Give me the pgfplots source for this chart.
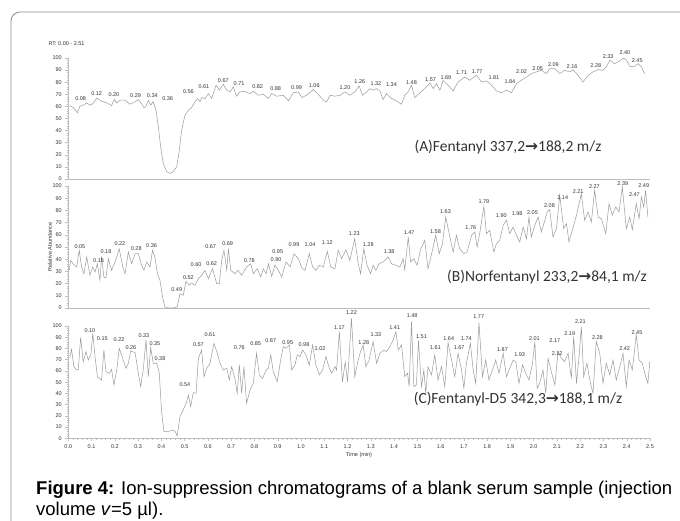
\documentclass[border=0pt]{standalone}
\usepackage{pgfplots}
\pgfplotsset{compat=1.18}
\usepackage{fontspec}
\setmainfont{Liberation Sans}
\newfontfamily\calfont{Carlito}
\newfontfamily\symfont{DejaVu Sans}
\definecolor{trace}{HTML}{9A9A9A}
\definecolor{axisg}{HTML}{BDBDBD}
\definecolor{labg}{HTML}{333333}
\definecolor{frameg}{HTML}{8C8C8C}
\newcommand\tinyfont{\fontsize{5.5}{6}\selectfont}

\pgfplotsset{
  chrom/.style={
    scale only axis, width=581.7pt, anchor=south west,
    xmin=0, xmax=2.5, ymin=0, ymax=100, clip=false,
    axis x line*=bottom, axis y line*=left,
    axis line style={axisg, line width=0.7pt},
    ytick={0,10,...,100}, minor y tick num=4,
    tick align=outside, major tick length=3pt, minor tick length=1.6pt,
    every tick/.style={axisg, line width=0.4pt},
    tick label style={font=\tinyfont, text=labg},
    /pgf/number format/assume math mode=true,
  },
  trc/.style={color=trace, line width=0.5pt, mark=none},
  peaks/.style={only marks, mark=none, nodes near coords, point meta=explicit symbolic,
    every node near coord/.append style={anchor=center, font=\tinyfont, text=labg, inner sep=0pt}},
}

\begin{document}
\begin{tikzpicture}
\useasboundingbox (0,0) rectangle (680pt,521pt);
\draw[frameg, line width=0.8pt, rounded corners=9pt] (11pt,-2pt) -- (11pt,509pt) -- (684pt,509pt);

% (A) Fentanyl
\begin{axis}[chrom, at={(68.3pt,342pt)}, height=121pt, xtick=\empty]
\addplot[trc] table {
0.007 60.7
0.021 59.1
0.039 54.7
0.050 60.2
0.064 61.0
0.079 62.9
0.093 61.0
0.107 62.4
0.122 66.8
0.143 64.3
0.165 62.9
0.186 60.7
0.198 65.9
0.208 62.9
0.222 65.1
0.244 65.1
0.265 61.8
0.287 63.9
0.301 65.6
0.315 62.1
0.325 58.8
0.334 60.2
0.344 65.1
0.354 61.0
0.365 63.9
0.377 56.9
0.387 43.1
0.397 26.6
0.408 12.9
0.423 6.0
0.437 4.6
0.451 6.0
0.466 10.2
0.477 23.6
0.487 40.1
0.501 52.5
0.516 56.9
0.530 59.1
0.544 63.7
0.556 66.5
0.566 63.9
0.573 67.3
0.587 66.2
0.602 70.6
0.616 66.5
0.635 77.5
0.649 73.4
0.666 78.3
0.681 73.4
0.695 72.0
0.709 76.1
0.723 68.4
0.738 72.0
0.759 72.3
0.781 70.6
0.795 72.5
0.817 69.2
0.838 70.0
0.860 66.5
0.874 70.6
0.895 68.4
0.924 69.2
0.946 64.6
0.967 71.2
0.989 72.0
1.003 67.3
1.024 69.2
1.053 73.9
1.074 70.0
1.096 65.1
1.110 63.7
1.125 69.2
1.146 68.4
1.168 69.2
1.189 72.0
1.210 69.2
1.231 72.0
1.250 76.9
1.264 69.2
1.282 72.0
1.296 74.7
1.310 73.4
1.325 74.7
1.339 72.8
1.353 65.6
1.367 70.6
1.389 66.5
1.410 64.6
1.432 61.8
1.446 69.2
1.461 72.0
1.475 77.5
1.489 67.3
1.511 71.2
1.532 74.7
1.554 79.4
1.568 74.7
1.582 78.8
1.597 73.4
1.611 81.6
1.632 77.5
1.654 72.8
1.675 80.2
1.704 84.3
1.725 81.6
1.754 85.7
1.776 80.2
1.797 81.0
1.819 77.5
1.840 72.8
1.861 71.2
1.883 73.4
1.904 71.2
1.926 78.8
1.947 81.6
1.969 84.3
1.990 87.1
2.012 88.5
2.033 89.8
2.055 87.1
2.069 91.2
2.091 91.2
2.112 87.1
2.133 89.8
2.155 88.5
2.169 90.4
2.191 85.7
2.212 80.2
2.234 85.7
2.255 88.5
2.277 90.4
2.298 89.8
2.312 92.6
2.327 98.1
2.348 95.3
2.370 97.5
2.384 100.0
2.398 98.6
2.413 93.1
2.434 93.1
2.449 95.3
2.463 92.6
2.477 87.1
};
\addplot[peaks] table[meta=lab] {
t v lab
0.053 66.8 0.08
0.122 70.6 0.12
0.196 69.8 0.20
0.289 68.7 0.29
0.361 68.7 0.34
0.427 66.2 0.36
0.516 72.5 0.56
0.583 76.1 0.61
0.666 81.6 0.67
0.734 78.8 0.71
0.814 76.1 0.82
0.891 74.5 0.88
0.981 75.3 0.99
1.057 76.9 1.06
1.189 75.5 1.20
1.253 80.2 1.26
1.322 79.1 1.32
1.389 78.3 1.34
1.475 79.4 1.48
1.557 82.4 1.57
1.623 83.8 1.69
1.690 87.6 1.71
1.757 88.5 1.77
1.829 83.5 1.81
1.898 80.2 1.84
1.948 88.5 2.02
2.017 91.2 2.05
2.085 94.5 2.09
2.165 93.1 2.16
2.267 94.0 2.28
2.320 101.4 2.33
2.392 104.1 2.40
2.445 97.5 2.45
};
\end{axis}

% (B) Norfentanyl
\begin{axis}[chrom, at={(68.3pt,213pt)}, height=122pt, xtick=\empty]
\addplot[trc] table {
0.004 30.9
0.010 39.0
0.021 36.1
0.036 33.6
0.047 47.3
0.057 33.6
0.067 28.1
0.079 41.8
0.093 26.8
0.105 33.6
0.115 29.5
0.125 36.3
0.136 22.7
0.143 42.3
0.153 25.4
0.162 24.6
0.172 40.4
0.186 30.9
0.201 37.7
0.219 48.6
0.234 33.6
0.244 28.1
0.258 45.9
0.272 36.3
0.287 44.5
0.301 44.5
0.315 35.0
0.325 30.9
0.337 37.7
0.351 33.6
0.362 47.3
0.372 41.8
0.383 28.1
0.394 22.7
0.405 9.0
0.415 0.8
0.430 0
0.451 0
0.468 0.8
0.480 11.7
0.494 10.4
0.506 21.9
0.520 18.6
0.530 20.5
0.544 18.6
0.559 24.0
0.573 26.8
0.587 30.9
0.602 24.0
0.620 32.2
0.638 19.9
0.649 19.9
0.659 39.0
0.669 47.3
0.681 30.9
0.688 48.6
0.698 30.9
0.716 28.1
0.730 30.9
0.745 26.8
0.766 33.6
0.784 36.3
0.795 28.1
0.812 32.2
0.827 25.4
0.838 32.2
0.850 28.1
0.860 36.3
0.874 26.0
0.888 35.0
0.903 30.9
0.917 25.4
0.936 37.7
0.953 33.6
0.970 44.5
0.989 40.4
1.003 33.0
1.017 30.9
1.036 44.5
1.050 33.6
1.064 30.9
1.079 35.0
1.096 33.6
1.113 46.4
1.128 33.6
1.146 32.2
1.160 47.3
1.175 40.4
1.193 47.8
1.210 39.0
1.231 56.8
1.246 36.3
1.256 28.1
1.270 48.6
1.284 35.0
1.299 28.1
1.310 35.0
1.322 30.9
1.336 36.3
1.353 37.7
1.375 41.8
1.389 36.3
1.408 35.0
1.425 33.6
1.439 40.4
1.446 31.4
1.461 58.2
1.471 37.7
1.485 40.4
1.499 35.0
1.513 47.3
1.532 55.5
1.546 32.2
1.565 47.3
1.579 59.6
1.594 44.5
1.608 52.7
1.622 74.6
1.640 58.2
1.654 45.9
1.668 59.6
1.682 48.6
1.700 44.5
1.714 45.9
1.733 59.6
1.747 62.3
1.757 50.0
1.768 60.9
1.786 83.3
1.797 60.9
1.811 63.7
1.829 45.9
1.840 52.7
1.854 55.5
1.869 67.8
1.883 71.9
1.897 60.9
1.912 66.4
1.926 59.6
1.940 54.1
1.955 66.4
1.969 56.8
1.980 74.6
1.990 58.2
2.005 67.8
2.019 74.6
2.033 62.3
2.048 71.9
2.058 78.7
2.069 80.6
2.083 58.2
2.098 65.0
2.112 92.3
2.129 65.0
2.141 69.1
2.152 54.1
2.166 63.7
2.184 76.0
2.205 93.7
2.219 71.9
2.234 78.7
2.248 70.5
2.262 96.4
2.277 74.6
2.291 73.2
2.310 60.9
2.324 85.5
2.338 76.0
2.353 82.8
2.367 78.7
2.381 99.2
2.398 65.0
2.413 74.6
2.424 64.2
2.441 85.5
2.453 73.2
2.463 91.0
2.473 82.8
2.481 96.4
2.491 74.6
};
\addplot[peaks] table[meta=lab] {
t v lab
0.050 50.5 0.05
0.130 38.8 0.15
0.162 45.9 0.18
0.222 52.5 0.22
0.292 48.4 0.28
0.358 50.8 0.36
0.466 14.8 0.49
0.516 24.6 0.52
0.549 35.5 0.60
0.616 36.1 0.62
0.612 50.5 0.67
0.685 52.7 0.69
0.778 38.8 0.78
0.893 39.6 0.90
0.900 46.4 0.95
0.970 52.2 0.99
1.039 52.2 1.04
1.113 53.6 1.12
1.229 60.9 1.23
1.289 52.2 1.28
1.379 45.9 1.38
1.465 62.0 1.47
1.578 62.3 1.58
1.621 78.7 1.63
1.730 66.1 1.76
1.786 87.4 1.79
1.861 75.7 1.90
1.929 77.0 1.98
1.995 77.9 2.05
2.068 84.2 2.08
2.125 90.4 2.14
2.191 95.1 2.21
2.261 99.2 2.27
2.383 101.9 2.39
2.433 93.2 2.47
2.473 100.5 2.49
};
\end{axis}

% (C) Fentanyl-D5
\begin{axis}[chrom, at={(68.3pt,82.7pt)}, height=112.3pt,
  xtick={0,0.1,0.2,0.3,0.4,0.5,0.6,0.7,0.8,0.9,1.0,1.1,1.2,1.3,1.4,1.5,1.6,1.7,1.8,1.9,2.0,2.1,2.2,2.3,2.4,2.5},
  minor x tick num=4,
  xticklabel style={/pgf/number format/.cd, fixed, fixed zerofill, precision=1}]
\addplot[trc] table {
0.007 72.0
0.014 79.2
0.024 63.8
0.036 60.8
0.043 61.4
0.053 89.9
0.064 68.2
0.076 77.2
0.086 69.7
0.097 74.2
0.105 93.5
0.115 72.7
0.125 54.9
0.143 51.9
0.153 78.6
0.162 59.3
0.176 57.9
0.186 61.4
0.196 47.5
0.208 60.8
0.219 80.1
0.236 69.7
0.248 62.3
0.258 66.8
0.268 77.7
0.287 76.3
0.301 57.9
0.311 46.0
0.322 60.8
0.334 87.5
0.344 54.9
0.354 81.0
0.365 66.8
0.380 66.8
0.391 57.9
0.401 23.7
0.411 5.9
0.430 5.9
0.444 7.4
0.458 6.5
0.468 2.1
0.480 19.3
0.494 25.2
0.509 32.6
0.516 38.6
0.526 28.2
0.537 40.7
0.549 40.0
0.559 71.2
0.573 78.6
0.583 54.9
0.595 62.3
0.609 66.8
0.626 84.6
0.638 77.2
0.652 66.8
0.666 60.8
0.681 62.3
0.692 51.9
0.702 63.8
0.716 53.4
0.726 40.0
0.735 65.3
0.745 40.0
0.755 63.8
0.766 31.2
0.781 43.0
0.795 49.0
0.809 75.7
0.821 56.4
0.835 53.4
0.850 60.8
0.860 62.3
0.870 74.2
0.881 59.3
0.898 50.4
0.913 70.3
0.924 81.6
0.936 80.1
0.950 83.1
0.960 60.8
0.974 65.3
0.984 74.2
0.996 72.7
1.007 78.6
1.021 74.2
1.036 65.3
1.050 83.1
1.064 65.3
1.079 56.4
1.093 60.8
1.107 72.7
1.122 62.3
1.132 57.9
1.146 63.8
1.153 60.8
1.165 95.0
1.178 50.0
1.190 68.0
1.200 50.4
1.217 106.8
1.231 54.9
1.246 69.7
1.256 77.2
1.267 83.1
1.279 63.8
1.293 69.7
1.310 86.1
1.325 66.8
1.339 75.7
1.356 78.6
1.367 77.2
1.382 81.6
1.396 87.5
1.408 95.0
1.418 78.6
1.432 83.1
1.446 54.9
1.458 57.9
1.465 46.0
1.475 103.9
1.485 46.0
1.496 47.5
1.505 86.9
1.518 46.0
1.528 60.8
1.536 40.0
1.546 63.8
1.561 56.4
1.575 74.2
1.589 51.9
1.604 63.8
1.618 46.0
1.632 85.2
1.647 69.7
1.661 54.9
1.675 75.7
1.690 60.8
1.700 44.5
1.711 66.8
1.728 84.6
1.740 60.8
1.751 49.0
1.765 103.0
1.780 54.9
1.794 69.7
1.808 51.9
1.823 60.8
1.837 69.7
1.851 57.9
1.869 75.7
1.883 54.9
1.897 62.3
1.912 69.7
1.923 68.2
1.937 49.0
1.952 65.3
1.966 57.9
1.980 51.9
1.995 66.8
2.005 86.1
2.015 44.5
2.026 49.0
2.040 60.8
2.052 40.0
2.062 71.2
2.076 59.3
2.091 47.5
2.105 77.2
2.119 71.2
2.133 68.2
2.148 75.7
2.162 53.4
2.172 90.5
2.184 49.0
2.195 72.7
2.205 99.4
2.215 54.9
2.229 66.8
2.244 49.0
2.255 40.0
2.269 86.1
2.284 75.7
2.298 49.0
2.312 66.8
2.327 56.4
2.341 69.7
2.355 51.9
2.370 63.8
2.384 75.7
2.398 46.0
2.410 69.7
2.424 60.8
2.441 92.0
2.453 69.7
2.467 66.8
2.481 54.9
2.491 49.0
2.499 68.2
};
\addplot[peaks] table[meta=lab] {
t v lab
0.093 95.8 0.10
0.146 89.0 0.15
0.218 88.1 0.22
0.269 80.7 0.26
0.325 91.4 0.33
0.372 84.6 0.35
0.394 71.2 0.38
0.501 47.5 0.54
0.559 83.1 0.57
0.609 92.6 0.61
0.735 80.7 0.76
0.805 84.0 0.85
0.870 86.9 0.87
0.943 84.9 0.95
1.013 83.4 0.98
1.082 80.1 1.02
1.165 98.8 1.17
1.217 111.9 1.22
1.270 85.5 1.28
1.322 92.0 1.33
1.403 98.8 1.41
1.478 109.2 1.48
1.518 90.5 1.51
1.578 81.0 1.61
1.635 88.4 1.64
1.680 81.0 1.67
1.711 88.7 1.74
1.764 108.3 1.77
1.866 79.2 1.87
1.940 74.2 1.93
2.003 89.0 2.01
2.101 75.7 2.12
2.091 86.6 2.17
2.155 93.5 2.19
2.201 103.9 2.21
2.274 89.9 2.28
2.391 80.1 2.42
2.444 94.1 2.45
};
\end{axis}

\node[anchor=west, font=\tinyfont, text=labg] at (45pt,477pt) {RT: 0.00 - 2.51};
\node[rotate=90, font=\tinyfont, text=labg] at (50pt,274pt) {Relative Abundance};
\node[font=\tinyfont, text=labg] at (359pt,66pt) {Time (min)};

\node[font=\calfont\fontsize{15.5}{17}\selectfont, text=labg] at (508pt,374pt) {(A)Fentanyl 337,2{\symfont\bfseries →}188,2 m/z};
\node[font=\calfont\fontsize{15.5}{17}\selectfont, text=labg] at (547pt,244pt) {(B)Norfentanyl 233,2{\symfont\bfseries →}84,1 m/z};
\node[font=\calfont\fontsize{15.5}{17}\selectfont, text=labg] at (518pt,122pt) {(C)Fentanyl-D5 342,3{\symfont\bfseries →}188,1 m/z};

\node[anchor=base west, inner sep=0pt, font=\fontsize{18.5}{21}\selectfont] at (36pt,26pt)
  {\textbf{Figure 4:} Ion-suppression chromatograms of a blank serum sample (injection};
\node[anchor=base west, inner sep=0pt, font=\fontsize{18.5}{21}\selectfont] at (36pt,5pt)
  {volume \textit{v}=5 µl).};
\end{tikzpicture}
\end{document}
